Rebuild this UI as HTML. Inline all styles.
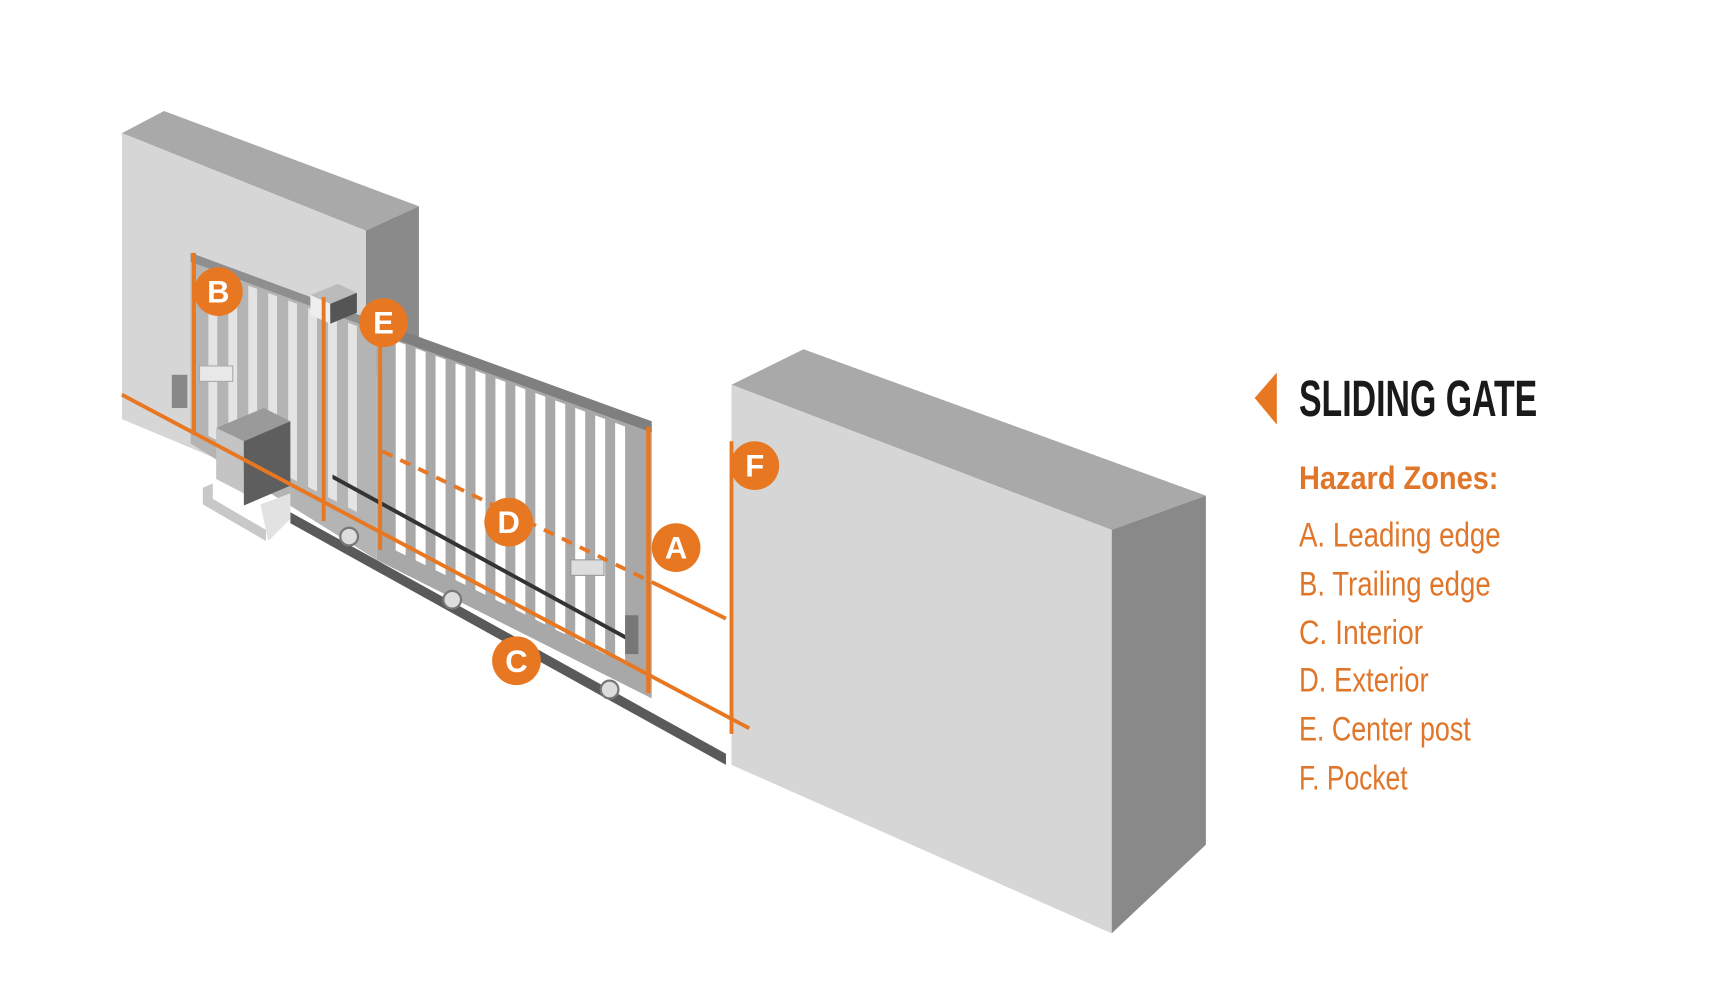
<!DOCTYPE html>
<html><head><meta charset="utf-8"><style>
html,body{margin:0;padding:0;background:#fff;}
svg{display:block;}
</style></head><body>
<svg width="1729" height="1000" viewBox="0 0 1560 902" xmlns="http://www.w3.org/2000/svg">
<defs>
<clipPath id="fr"><polygon points="348,304 578,390 578,606 348,492"/></clipPath>
<clipPath id="lf"><polygon points="182,242 338,300 338,470 182,390"/></clipPath>
</defs>
<rect width="1560" height="902" fill="#fff"/>
<!-- left wall -->
<polygon points="110,120 148,100 378,186 330,208" fill="#a9a9a9"/>
<polygon points="330,208 378,186 378,330 330,340" fill="#8a8a8a"/>
<polygon points="110,120 330,208 330,470 110,378" fill="#d6d6d6"/>
<!-- track -->
<polygon points="262,462 655,680 655,690 262,472" fill="#5a5a5a"/>
<!-- left gate section -->
<polygon points="172,228 340,290 340,505 172,400" fill="#b4b4b4"/>
<g clip-path="url(#lf)" fill="#e4e4e4">
<rect x="188" y="200" width="8" height="320"/><rect x="206" y="200" width="8" height="320"/><rect x="224" y="200" width="8" height="320"/><rect x="242" y="200" width="8" height="320"/><rect x="260" y="200" width="8" height="320"/><rect x="278" y="200" width="8" height="320"/><rect x="296" y="200" width="8" height="320"/><rect x="314" y="200" width="8" height="320"/>
</g>
<polygon points="172,228 340,290 340,298 172,236" fill="#8f8f8f"/>
<!-- front gate -->
<polygon points="340,292 588,383 588,630 340,505" fill="#a8a8a8"/>
<g clip-path="url(#fr)" fill="#fff">
<rect x="357" y="280" width="9" height="360"/><rect x="375" y="280" width="9" height="360"/><rect x="393" y="280" width="9" height="360"/><rect x="411" y="280" width="9" height="360"/><rect x="429" y="280" width="9" height="360"/><rect x="447" y="280" width="9" height="360"/><rect x="465" y="280" width="9" height="360"/><rect x="483" y="280" width="9" height="360"/><rect x="501" y="280" width="9" height="360"/><rect x="519" y="280" width="9" height="360"/><rect x="537" y="280" width="9" height="360"/><rect x="555" y="280" width="9" height="360"/>
</g>
<polygon points="340,290 588,380 588,390 340,300" fill="#7f7f7f"/>
<!-- rack -->
<polygon points="300,428 570,576 570,580 300,432" fill="#333"/>
<!-- handles -->
<rect x="515" y="505" width="30" height="14" fill="#ddd" stroke="#999"/>
<rect x="180" y="330" width="30" height="14" fill="#e8e8e8" stroke="#aaa"/>
<rect x="564" y="555" width="12" height="35" fill="#777"/>
<rect x="155" y="338" width="14" height="30" fill="#888"/>
<!-- wheels -->
<circle cx="315" cy="484" r="8" fill="#ddd" stroke="#777" stroke-width="2"/>
<circle cx="408" cy="541" r="8" fill="#ddd" stroke="#777" stroke-width="2"/>
<circle cx="550" cy="622" r="8" fill="#ddd" stroke="#777" stroke-width="2"/>
<!-- photocell -->
<polygon points="280,266 305,256 322,264 298,274" fill="#bbb"/>
<polygon points="280,266 298,274 298,292 280,284" fill="#eee"/>
<polygon points="298,274 322,264 322,282 298,292" fill="#555"/>
<!-- motor -->
<polygon points="183,440 192,436 192,450 240,478 240,488 183,455" fill="#c8c8c8"/>
<polygon points="235,455 262,445 262,468 242,488" fill="#e2e2e2"/>
<polygon points="195,386 238,368 262,380 220,398" fill="#9a9a9a"/>
<polygon points="195,386 220,398 220,445 195,432" fill="#c4c4c4"/>
<polygon points="220,398 262,380 262,438 220,456" fill="#5e5e5e"/>
<!-- right wall -->
<polygon points="660,347 725,315 1088,447 1003,478" fill="#a9a9a9"/>
<polygon points="1003,478 1088,447 1088,762 1003,842" fill="#898989"/>
<polygon points="660,347 1003,478 1003,842 660,690" fill="#d6d6d6"/>
<!-- orange lines -->
<g stroke="#e87722" stroke-width="3.5" fill="none">
<line x1="110" y1="356" x2="676" y2="657"/>
<line x1="345" y1="407" x2="588" y2="525" stroke-dasharray="10,8"/>
<line x1="588" y1="525" x2="655" y2="558"/>
<line x1="175" y1="228" x2="175" y2="392"/>
<line x1="292" y1="268" x2="292" y2="470"/>
<line x1="343" y1="292" x2="343" y2="496"/>
<line x1="585" y1="385" x2="585" y2="625" stroke-width="4"/>
<line x1="660" y1="398" x2="660" y2="662"/>
</g>
<g fill="#e87722">
<circle cx="197" cy="263" r="22"/><circle cx="346" cy="291" r="22"/><circle cx="459" cy="471" r="22"/><circle cx="610" cy="494" r="22"/><circle cx="466" cy="596" r="22"/><circle cx="681" cy="420" r="22"/>
</g>
<g fill="#fff" font-family="'Liberation Sans Narrow','Liberation Sans',sans-serif" font-weight="bold" font-size="28" text-anchor="middle">
<text x="197" y="273">B</text><text x="346" y="301">E</text><text x="459" y="481">D</text><text x="610" y="504">A</text><text x="466" y="606">C</text><text x="681" y="430">F</text>
</g>
<!-- legend -->
<g transform="translate(-6,-3)">
<polygon points="1138,362 1158,339 1158,386" fill="#e87722"/>
<text x="1178" y="378" font-family="'Liberation Sans Narrow','Liberation Sans',sans-serif" font-weight="bold" font-size="46" fill="#1a1a1a" textLength="215" lengthAdjust="spacingAndGlyphs">SLIDING GATE</text>
<text x="1178" y="444" font-family="'Liberation Sans Narrow','Liberation Sans',sans-serif" font-weight="bold" font-size="29" fill="#e0762a" textLength="180" lengthAdjust="spacingAndGlyphs">Hazard Zones:</text>
<g font-family="'Liberation Sans Narrow','Liberation Sans',sans-serif" font-size="31" fill="#e0762a">
<text x="1178" y="496" textLength="182" lengthAdjust="spacingAndGlyphs">A. Leading edge</text>
<text x="1178" y="540" textLength="173" lengthAdjust="spacingAndGlyphs">B. Trailing edge</text>
<text x="1178" y="584" textLength="112" lengthAdjust="spacingAndGlyphs">C. Interior</text>
<text x="1178" y="627" textLength="117" lengthAdjust="spacingAndGlyphs">D. Exterior</text>
<text x="1178" y="671" textLength="155" lengthAdjust="spacingAndGlyphs">E. Center post</text>
<text x="1178" y="715" textLength="98" lengthAdjust="spacingAndGlyphs">F. Pocket</text>
</g>
</g>
</svg>
</body></html>
